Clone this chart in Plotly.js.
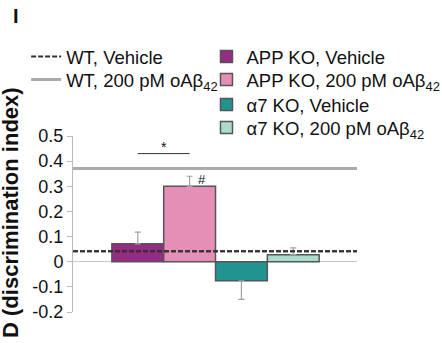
<!DOCTYPE html>
<html><head><meta charset="utf-8">
<script src="https://cdn.plot.ly/plotly-3.0.1.min.js"></script>
<style>html,body{margin:0;padding:0;background:#fff}#chart{width:442px;height:343px}</style>
</head><body><div id="chart"></div>
<script>
const groups = ["APP KO, Vehicle", "APP KO, 200 pM oAβ<sub>42</sub>", "α7 KO, Vehicle", "α7 KO, 200 pM oAβ<sub>42</sub>"];
const positions = [0, 1, 2, 3];
const values = [0.071, 0.30, -0.076, 0.028];
const errUp = [0.047, 0.04, 0, 0.027];
const errDown = [0, 0, 0.074, 0];
const colors = ["#952b83", "#e68fb6", "#1f9491", "#a9dccd"];
const wtNames = ["WT, Vehicle", "WT, 200 pM oAβ<sub>42</sub>"];
const wtValues = [0.042, 0.371];
const xRange = [-1.25, 4.23];
const sigPair = [0, 1];
const sigLevel = 0.43;
const yTicks = [-0.2, -0.1, 0, 0.1, 0.2, 0.3, 0.4, 0.5];
const yTickText = ["-0.2", "-0.1", "0", "0.1", "0.2", "0.3", "0.4", "0.5"];

const font = "Liberation Sans, Arial, sans-serif";
const M = {l: 73, r: 85, t: 136, b: 31, autoexpand: false};
const plotH = 343 - M.t - M.b;
const py = p => 1 + (M.t - p) / plotH;   // pixel row -> paper y (layout placement only)

const traces = [];
traces.push({type: "scatter", mode: "lines", x: xRange, y: [wtValues[0], wtValues[0]], name: wtNames[0],
  line: {color: "#333", width: 2, dash: "5px,2px"}, legend: "legend", hoverinfo: "skip"});
traces.push({type: "scatter", mode: "lines", x: xRange, y: [wtValues[1], wtValues[1]], name: wtNames[1],
  line: {color: "#aaaaaa", width: 3}, legend: "legend2", hoverinfo: "skip"});
const barLegends = ["legend3", "legend4", "legend5", "legend6"];
groups.forEach((g, i) => {
  traces.push({type: "bar", x: [positions[i]], y: [values[i]], name: g, width: 1,
    marker: {color: colors[i], line: {color: "#555", width: 1.5}},
    error_y: {type: "data", symmetric: false, array: [errUp[i]], arrayminus: [errDown[i]], color: "#a0a0a0", thickness: 1.2, width: 3},
    legend: barLegends[i]});
});
traces.push({type: "scatter", mode: "lines", x: xRange, y: [wtValues[0], wtValues[0]], showlegend: false,
  line: {color: "#333", width: 2, dash: "5px,2px"}, hoverinfo: "skip"});
traces.push({type: "scatter", mode: "lines", x: sigPair, y: [sigLevel, sigLevel], showlegend: false,
  line: {color: "#333", width: 1}, hoverinfo: "skip"});

const legFont = {size: 18.5, family: font, color: "#111"};
const mkLeg = (x, p) => ({x: x, y: py(p), xanchor: "left", yanchor: "middle", bgcolor: "rgba(0,0,0,0)",
  font: legFont, itemwidth: 30, borderwidth: 0});

const layout = {
  width: 442, height: 343,
  margin: M,
  paper_bgcolor: "#fff", plot_bgcolor: "#fff",
  font: {family: font, size: 18, color: "#111"},
  barmode: "overlay",
  showlegend: true,
  xaxis: {range: xRange, showticklabels: false, ticks: "", showgrid: false, showline: false,
    zeroline: false, fixedrange: true, automargin: false},
  yaxis: {range: [-0.2, 0.5], tickvals: yTicks, ticktext: yTickText, ticks: "outside", ticklen: 5,
    tickcolor: "#bbb", showline: true, linecolor: "#bbb", linewidth: 1, showgrid: false,
    zeroline: true, zerolinecolor: "#c8c8c8", zerolinewidth: 1.5,
    tickfont: {size: 18, family: font, color: "#111"}, automargin: false},
  legend: mkLeg(-0.165, 57),
  legend2: mkLeg(-0.165, 80),
  legend3: mkLeg(0.47, 57),
  legend4: mkLeg(0.47, 80),
  legend5: mkLeg(0.47, 105),
  legend6: mkLeg(0.47, 128),
  annotations: [
    {text: "<b>I</b>", xref: "paper", yref: "paper", x: -0.2, y: py(16), xanchor: "center", yanchor: "middle",
      showarrow: false, font: {size: 20, family: font}},
    {text: "<b>D (discrimination index)</b>", textangle: -90, xref: "paper", yref: "paper", x: -0.222, y: py(212),
      xanchor: "center", yanchor: "middle", showarrow: false, borderpad: 0, font: {size: 22, family: font}},
    {text: "*", xref: "x", yref: "y", x: 0.5, y: sigLevel + 0.028, showarrow: false, font: {size: 14, family: font}},
    {text: "#", xref: "x", yref: "y", x: 1.24, y: 0.327, showarrow: false, font: {size: 13, family: font}}
  ]
};
Plotly.newPlot("chart", traces, layout, {staticPlot: true, displayModeBar: false});
</script></body></html>
